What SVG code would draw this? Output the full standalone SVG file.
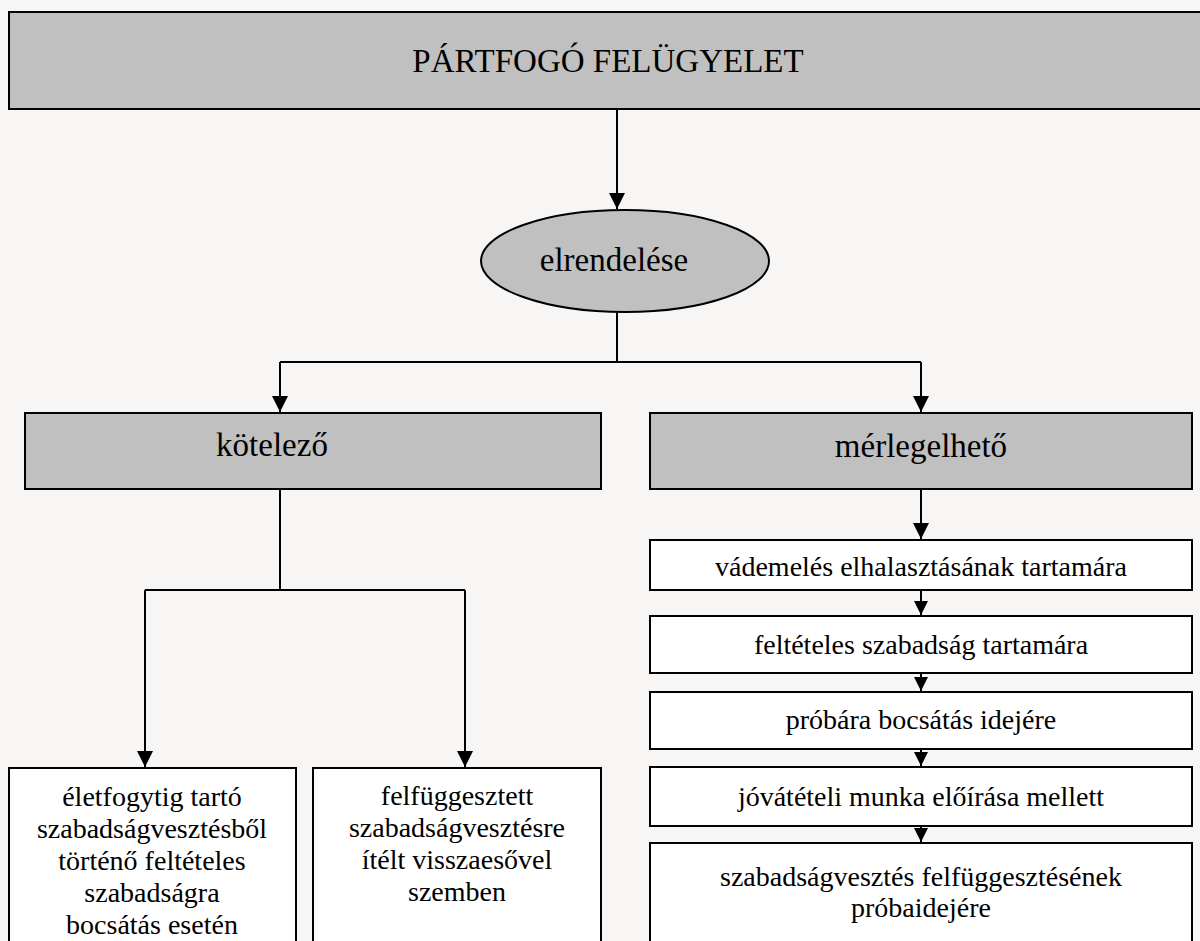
<svg xmlns="http://www.w3.org/2000/svg" width="1200" height="941" viewBox="0 0 1200 941">
<style>
.bg{fill:#f7f6f4}
.g{fill:#c0c0c0;stroke:#000;stroke-width:2}
.w{fill:#fff;stroke:#000;stroke-width:2}
.ln{fill:none;stroke:#000;stroke-width:2}
text{fill:#000;text-anchor:middle}
.big{font-size:33px}
.sm{font-size:28px}
</style>
<defs>
<marker id="ah" viewBox="0 0 16 16" refX="16" refY="8" markerWidth="16" markerHeight="16" markerUnits="userSpaceOnUse" orient="auto">
<path d="M0,0 L16,8 L0,16 Z" fill="#000"/>
</marker>
<marker id="ahs" viewBox="0 0 14 14" refX="14" refY="7" markerWidth="14" markerHeight="14" markerUnits="userSpaceOnUse" orient="auto">
<path d="M0,0 L14,7 L0,14 Z" fill="#000"/>
</marker>
</defs>
<rect class="bg" x="0" y="0" width="1200" height="941"/>
<g id="connectors">
<path class="ln" d="M617,109 V209" marker-end="url(#ah)"/>
<path class="ln" d="M617,312 V362"/>
<path class="ln" d="M280,362 H921"/>
<path class="ln" d="M280,362 V412" marker-end="url(#ah)"/>
<path class="ln" d="M921,362 V412" marker-end="url(#ah)"/>
<path class="ln" d="M280,489 V590"/>
<path class="ln" d="M145,590 H465"/>
<path class="ln" d="M145,590 V767" marker-end="url(#ah)"/>
<path class="ln" d="M465,590 V767" marker-end="url(#ah)"/>
<path class="ln" d="M921,489 V539" marker-end="url(#ah)"/>
<path class="ln" d="M921,590 V615" marker-end="url(#ahs)"/>
<path class="ln" d="M921,673 V691" marker-end="url(#ahs)"/>
<path class="ln" d="M921,749 V766" marker-end="url(#ahs)"/>
<path class="ln" d="M921,826 V842" marker-end="url(#ahs)"/>
</g>
<g font-family="'Liberation Serif', 'DejaVu Serif', serif">
<g id="n-partfogo">
<rect class="g" x="9" y="12" width="1205" height="97"/>
<text class="big" x="608" y="72">PÁRTFOGÓ FELÜGYELET</text>
</g>
<g id="n-elrendelese">
<ellipse class="g" cx="625" cy="261" rx="144" ry="51"/>
<text class="big" x="614" y="271">elrendelése</text>
</g>
<g id="n-kotelezo">
<rect class="g" x="25" y="413" width="576" height="76"/>
<text class="big" x="272" y="456">kötelező</text>
</g>
<g id="n-merlegelheto">
<rect class="g" x="650" y="413" width="542" height="76"/>
<text class="big" x="921" y="457">mérlegelhető</text>
</g>
<g id="n-eletfogytig">
<rect class="w" x="9" y="768" width="287" height="200"/>
<text class="sm" x="152" y="806">életfogytig tartó</text>
<text class="sm" x="152" y="838">szabadságvesztésből</text>
<text class="sm" x="152" y="870">történő feltételes</text>
<text class="sm" x="152" y="902">szabadságra</text>
<text class="sm" x="152" y="934">bocsátás esetén</text>
</g>
<g id="n-felfuggesztett">
<rect class="w" x="313" y="768" width="288" height="200"/>
<text class="sm" x="457" y="805">felfüggesztett</text>
<text class="sm" x="457" y="837">szabadságvesztésre</text>
<text class="sm" x="457" y="869">ítélt visszaesővel</text>
<text class="sm" x="457" y="901">szemben</text>
</g>
<g id="n-vademeles">
<rect class="w" x="650" y="540" width="542" height="50"/>
<text class="sm" x="921" y="576">vádemelés elhalasztásának tartamára</text>
</g>
<g id="n-felteteles">
<rect class="w" x="650" y="616" width="542" height="57"/>
<text class="sm" x="921" y="654">feltételes szabadság tartamára</text>
</g>
<g id="n-probara">
<rect class="w" x="650" y="692" width="542" height="57"/>
<text class="sm" x="921" y="729">próbára bocsátás idejére</text>
</g>
<g id="n-jovateteli">
<rect class="w" x="650" y="767" width="542" height="59"/>
<text class="sm" x="921" y="806">jóvátételi munka előírása mellett</text>
</g>
<g id="n-szabadsagvesztes">
<rect class="w" x="650" y="843" width="542" height="130"/>
<text class="sm" x="921" y="886">szabadságvesztés felfüggesztésének</text>
<text class="sm" x="921" y="917">próbaidejére</text>
</g>
</g>
</svg>
